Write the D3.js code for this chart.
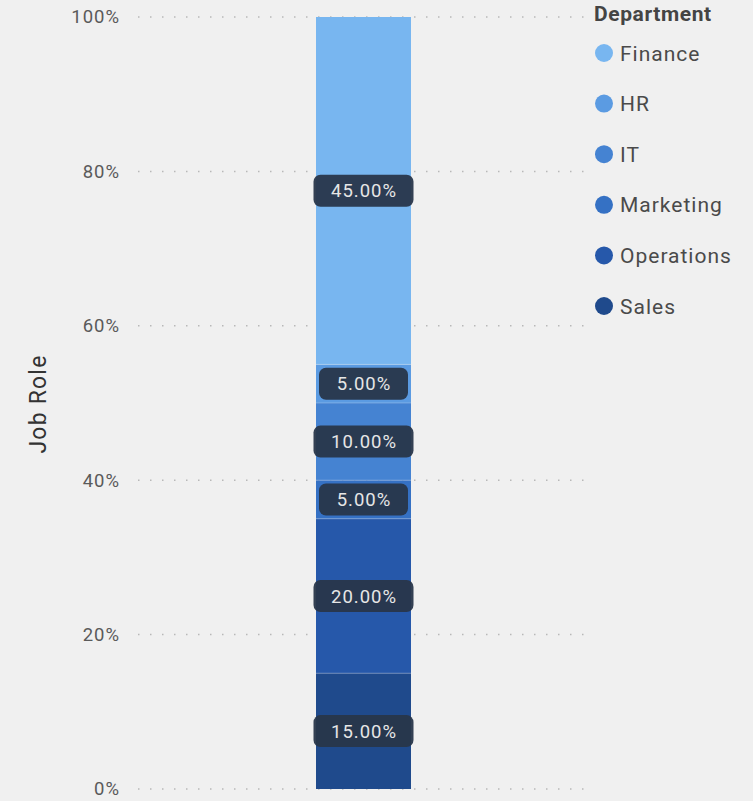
<!DOCTYPE html>
<html><head><meta charset="utf-8">
<script src="https://cdn.jsdelivr.net/npm/d3@7"></script>
<style>
html,body{margin:0;padding:0;background:#f0f0f0;}
svg{display:block;font-family:Roboto,"DejaVu Sans",sans-serif;}
</style></head>
<body><svg id="c" width="753" height="801"></svg>
<script>
const departments = ["Sales","Operations","Marketing","IT","HR","Finance"];
const shares = [15, 20, 5, 10, 5, 45];
const colors = ["#1f4a8c","#2658aa","#3571c4","#4583d2","#5b9be2","#78b6f0"];
const legendOrder = ["Finance","HR","IT","Marketing","Operations","Sales"];
const yTicks = [0,20,40,60,80,100];
const category = ["Job Role"];

const svg = d3.select("#c");
const y = d3.scaleLinear().domain([0,100]).range([789,17]);
const x = d3.scaleBand().domain(category).range([316,411]).padding(0);
const color = d3.scaleOrdinal().domain(departments).range(colors);

// grid
const grid = svg.append("g");
grid.selectAll("line").data(yTicks).join("line")
  .attr("x1",138).attr("x2",585)
  .attr("y1",d=>y(d)).attr("y2",d=>y(d))
  .attr("stroke","#b8b8b8").attr("stroke-width",1.5)
  .attr("stroke-dasharray","1.5,10.5");

// axis
const axis = d3.axisLeft(y).tickValues(yTicks).tickFormat(d=>d+"%").tickSize(0).tickPadding(0);
const ag = svg.append("g").attr("transform","translate(120,0)").call(axis);
ag.select(".domain").remove();
ag.selectAll("text").attr("font-size",18.5).attr("letter-spacing",1)
  .attr("fill","#5a5a5a").attr("font-family","Roboto,sans-serif");

// stacked data
let cum = 0;
const stacked = departments.map((d,i)=>{const o={dept:d,v:shares[i],y0:cum,y1:cum+shares[i]};cum+=shares[i];return o;});

svg.append("g").selectAll("rect").data(stacked).join("rect")
  .attr("x",x("Job Role")).attr("width",x.bandwidth())
  .attr("y",d=>y(d.y1)).attr("height",d=>y(d.y0)-y(d.y1))
  .attr("fill",d=>color(d.dept));
// faint separators
svg.append("g").selectAll("line").data(stacked.slice(1)).join("line")
  .attr("x1",x("Job Role")).attr("x2",x("Job Role")+x.bandwidth())
  .attr("y1",d=>y(d.y0)).attr("y2",d=>y(d.y0))
  .attr("stroke","#ffffff").attr("stroke-opacity",0.25).attr("stroke-width",1);

// labels
const lg = svg.append("g").selectAll("g").data(stacked).join("g")
  .attr("transform",d=>`translate(${x("Job Role")+x.bandwidth()/2},${y((d.y0+d.y1)/2)})`);
lg.append("rect")
  .attr("x",d=>d.v>=10?-50:-44.5).attr("width",d=>d.v>=10?100:89)
  .attr("y",-16).attr("height",32).attr("rx",7)
  .attr("fill","#28364a").attr("fill-opacity",0.95);
lg.append("text").attr("text-anchor","middle").attr("dy","0.36em").attr("x",0.5)
  .attr("font-size",18.5).attr("letter-spacing",1).attr("fill","#e6e6e6")
  .text(d=>d.v.toFixed(2)+"%");

// y axis title
svg.append("text").attr("transform","translate(46,404) rotate(-90)")
  .attr("text-anchor","middle").attr("font-size",23).attr("letter-spacing",1.2).attr("fill","#333")
  .attr("font-family","Roboto,sans-serif")
  .text(category[0]);

// legend
svg.append("text").attr("x",594).attr("y",21).attr("font-size",21).attr("font-weight","bold")
  .attr("letter-spacing",0.6).attr("fill","#444").text("Department");
const leg = svg.append("g").selectAll("g").data(legendOrder).join("g")
  .attr("transform",(d,i)=>`translate(604,${53+i*50.6})`);
leg.append("circle").attr("r",9).attr("fill",d=>color(d));
leg.append("text").attr("x",16).attr("dy","0.36em").attr("font-size",21).attr("letter-spacing",1)
  .attr("fill","#4a4a4a").text(d=>d);
</script></body></html>
